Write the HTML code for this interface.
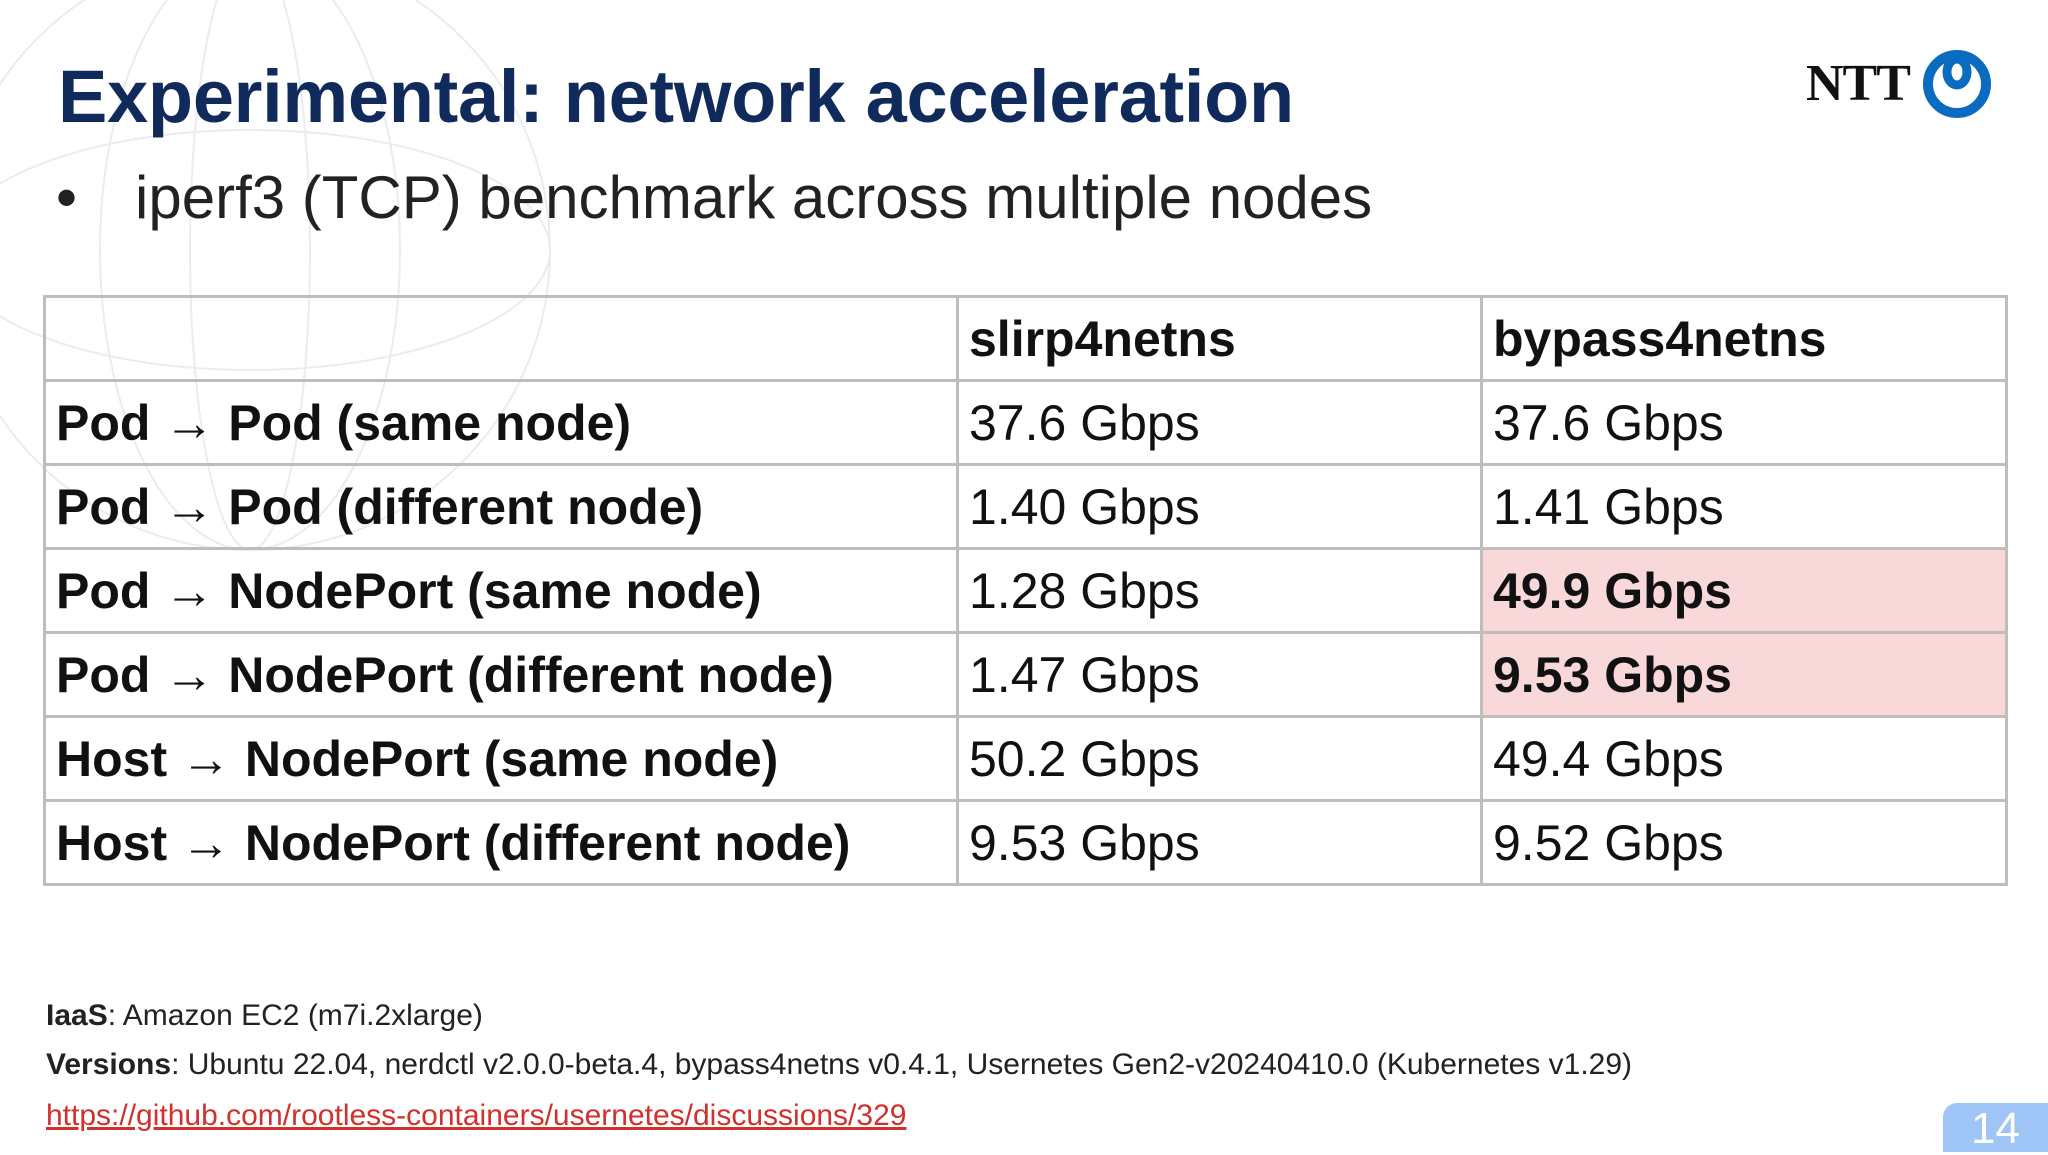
<!DOCTYPE html>
<html><head><meta charset="utf-8"><style>
body{margin:0;width:2048px;height:1152px;overflow:hidden;background:#fff;position:relative;font-family:"Liberation Sans",sans-serif}
.abs{position:absolute}
#title{left:58px;top:54px;font-size:74px;font-weight:bold;color:#112a5c;white-space:nowrap;letter-spacing:-0.3px}
#bullet{left:56px;top:163px;font-size:60px;color:#222;white-space:nowrap}
table{position:absolute;left:43px;top:295px;border-collapse:collapse;width:1962px;table-layout:fixed}
td{border:3px solid #bdbdbd;height:81px;font-size:50px;padding:0 0 0 10px;color:#111;white-space:nowrap;overflow:hidden}
td.h{font-weight:bold}
td.hl{background:#f8d8d8;font-weight:bold}
.foot{left:46px;font-size:30px;color:#222;white-space:nowrap}
</style></head><body>
<svg class="abs" style="left:0;top:0" width="600" height="600">
<g fill="none" stroke="#e6edf3" stroke-width="2">
<circle cx="250" cy="250" r="300"/><ellipse cx="250" cy="250" rx="150" ry="300"/><ellipse cx="250" cy="250" rx="300" ry="120"/><ellipse cx="250" cy="250" rx="60" ry="300"/>
</g></svg>
<div id="title" class="abs">Experimental: network acceleration</div>
<div id="bullet" class="abs">•<span style="margin-left:58px">iperf3 (TCP) benchmark across multiple nodes</span></div>
<div class="abs" style="left:1806px;top:54px;font-family:'Liberation Serif',serif;font-weight:bold;font-size:52px;letter-spacing:-1px;color:#111">NTT</div>
<svg class="abs" style="left:1918px;top:46px" width="80" height="76">
<circle cx="39" cy="38" r="29" fill="none" stroke="#0a6cc0" stroke-width="10"/>
<ellipse cx="39" cy="26" rx="10" ry="13" fill="none" stroke="#0a6cc0" stroke-width="9"/>
</svg>
<table>
<colgroup><col style="width:913px"><col style="width:524px"><col style="width:525px"></colgroup>
<tr><td></td><td class="h">slirp4netns</td><td class="h">bypass4netns</td></tr>
<tr><td class="h">Pod → Pod (same node)</td><td>37.6 Gbps</td><td>37.6 Gbps</td></tr>
<tr><td class="h">Pod → Pod (different node)</td><td>1.40 Gbps</td><td>1.41 Gbps</td></tr>
<tr><td class="h">Pod → NodePort (same node)</td><td>1.28 Gbps</td><td class="hl">49.9 Gbps</td></tr>
<tr><td class="h">Pod → NodePort (different node)</td><td>1.47 Gbps</td><td class="hl">9.53 Gbps</td></tr>
<tr><td class="h">Host → NodePort (same node)</td><td>50.2 Gbps</td><td>49.4 Gbps</td></tr>
<tr><td class="h">Host → NodePort (different node)</td><td>9.53 Gbps</td><td>9.52 Gbps</td></tr>
</table>
<div class="abs foot" style="top:999px"><b>IaaS</b>: Amazon EC2 (m7i.2xlarge)</div>
<div class="abs foot" style="top:1048px"><b>Versions</b>: Ubuntu 22.04, nerdctl v2.0.0-beta.4, bypass4netns v0.4.1, Usernetes Gen2-v20240410.0 (Kubernetes v1.29)</div>
<div class="abs foot" style="top:1099px;color:#d0312d;text-decoration:underline">https://github.com/rootless-containers/usernetes/discussions/329</div>
<div class="abs" style="left:1943px;top:1103px;width:105px;height:49px;background:#9ec5f5;border-top-left-radius:14px;color:#fff;font-size:44px;text-align:center;line-height:52px">14</div>
</body></html>
